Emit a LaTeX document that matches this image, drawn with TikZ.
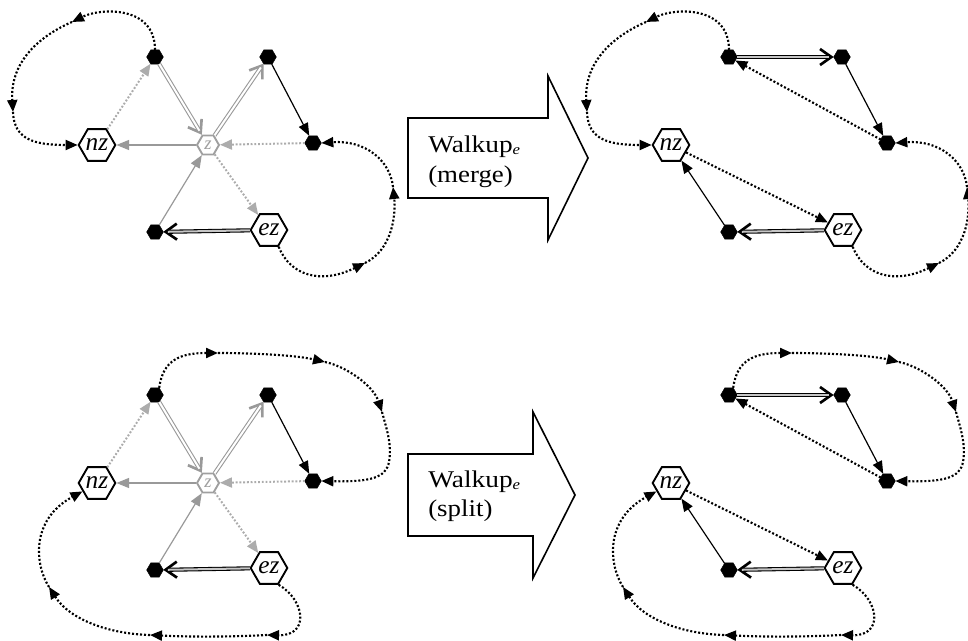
\documentclass[tikz,border=0pt]{standalone}
\usepackage{fontspec}
\usepackage{graphicx}
\setmainfont{Liberation Serif}
\usetikzlibrary{arrows.meta,shapes.geometric}
\tikzset{
  bh/.style={regular polygon, regular polygon sides=6, fill=black, draw=black, line width=0.3pt, minimum size=12.5pt, inner sep=0pt, outer sep=0pt},
  hexw/.style={regular polygon, regular polygon sides=6, draw=black, fill=white, line width=1.4pt, minimum size=27.5pt, inner sep=0pt},
  hexz/.style={regular polygon, regular polygon sides=6, draw=gray!75, fill=white, line width=1.4pt, minimum size=16.5pt, inner sep=0pt},
  lbl/.style={font=\fontsize{19}{19}\selectfont\itshape, inner sep=0pt},
  lblz/.style={font=\fontsize{14}{14}\selectfont\itshape, text=gray!75, inner sep=0pt},
  wtext/.style={font=\fontsize{18}{18}\selectfont, inner sep=0pt, anchor=base west},
  blk/.style={line width=1.2pt, line join=miter},
  thinK/.style={draw=black, line width=0.9pt, -{Triangle[length=9.5pt,width=7.5pt]}},
  thinG/.style={draw=gray!80, line width=0.9pt, -{Triangle[length=9.5pt,width=7.5pt]}},
  dotG/.style={draw=gray!65, line width=1.5pt, dash pattern=on 1.4pt off 1.4pt, -{Triangle[length=9pt,width=7.5pt]}},
  dotK/.style={draw=black, line width=1.6pt, dash pattern=on 1.5pt off 1.5pt, -{Triangle[length=9pt,width=7.5pt]}},
  chevG/.style={draw=gray!80, line width=2pt, -{Straight Barb[length=8.5pt,width=12pt]}},
  chevK/.style={draw=black, line width=2pt, -{Straight Barb[length=8.5pt,width=12pt]}},
  dblG/.style={draw=gray!80, double=white, double distance=1.5pt, line width=0.8pt, shorten >=3.5pt},
  dblK/.style={draw=black, double=gray!45, double distance=1.5pt, line width=0.8pt, shorten >=3.5pt},
}
\newcommand\mknodes[1]{%
  \node[bh] (#1A) at (155,57) {};
  \node[bh] (#1B) at (268,57) {};
  \node[bh] (#1C) at (313,143) {};
  \node[bh] (#1D) at (155,232) {};
  \node[hexw,label={[lbl,name=#1nzt]center:nz}] (#1nz) at (97,145) {};
  \node[hexw,label={[lbl,name=#1ezt]center:ez}] (#1ez) at (269,230) {};
}
\newcommand\leftedges[1]{%
  \node[hexz,label={[lblz,name=#1zt]center:z}] (#1z) at (208,145) {};
  \draw[chevG] (#1A) -- (#1z);
  \draw[dblG] (#1A) -- (#1z);
  \draw[chevG] (#1z) -- (#1B);
  \draw[dblG] (#1z) -- (#1B);
  \draw[thinK] (#1B) -- (#1C);
  \draw[dotG] (#1C) -- (#1z);
  \draw[thinG] (#1z) -- (#1nz);
  \draw[dotG] (#1nz) -- (#1A);
  \draw[thinG] (#1D) -- (#1z);
  \draw[dotG] (#1z) -- (#1ez);
  \draw[chevK] (#1ez) -- (#1D);
  \draw[dblK] (#1ez) -- (#1D);
}
\newcommand\rightedges[1]{%
  \draw[chevK] (#1A) -- (#1B);
  \draw[dblK] (#1A) -- (#1B);
  \draw[thinK] (#1B) -- (#1C);
  \draw[dotK] (#1C) -- (#1A);
  \draw[dotK] (#1nz) -- (#1ez);
  \draw[chevK] (#1ez) -- (#1D);
  \draw[dblK] (#1ez) -- (#1D);
  \draw[thinK] (#1D) -- (#1nz);
}
% merge loops: A -> nz and ez -> C
\newcommand\mergeloops[1]{%
  \coordinate (#1a1) at (72,22);
  \coordinate (#1a2) at (13,112);
  \draw[dotK] (#1A.north) .. controls (155,5) and (100,8) .. (#1a1);
  \draw[dotK] (#1a1) .. controls (35,38) and (10,65) .. (#1a2);
  \draw[dotK] (#1a2) .. controls (14,140) and (35,145) .. (#1nz.west);
  \coordinate (#1b1) at (365,263);
  \coordinate (#1b2) at (393,187);
  \draw[dotK] (#1ez.-60) .. controls (290,275) and (320,285) .. (#1b1);
  \draw[dotK] (#1b1) .. controls (392,250) and (396,215) .. (#1b2);
  \draw[dotK] (#1b2) .. controls (390,160) and (365,140) .. (#1C.east);
}
% split loops: A -> C and ez -> nz
\newcommand\splitloops[1]{%
  \coordinate (#1c1) at (218,15);
  \coordinate (#1c2) at (325,24);
  \coordinate (#1c3) at (382,74);
  \draw[dotK] (#1A.60) .. controls (163,22) and (180,15) .. (#1c1);
  \draw[dotK] (#1c1) .. controls (250,15) and (295,17) .. (#1c2);
  \draw[dotK] (#1c2) .. controls (345,28) and (373,47) .. (#1c3);
  \draw[dotK] (#1c3) .. controls (387,92) and (392,107) .. (389,124) .. controls (386,140) and (370,144) .. (#1C.east);
  \coordinate (#1d1) at (267,297);
  \coordinate (#1d2) at (150,297);
  \coordinate (#1d3) at (49,249);
  \draw[dotK] (#1ez.-60) .. controls (305,262) and (310,298) .. (#1d1);
  \draw[dotK] (#1d1) .. controls (230,299) and (190,299) .. (#1d2);
  \draw[dotK] (#1d2) .. controls (110,296) and (70,282) .. (#1d3);
  \draw[dotK] (#1d3) .. controls (35,227) and (30,182) .. (#1nz.-150);
}
\begin{document}
\begin{tikzpicture}[x=0.75pt,y=-0.75pt]
\useasboundingbox (0,0) rectangle (968,641);
\clip (0,0) rectangle (968,641);
% top left
\begin{scope}[shift={(0,0)}]
  \mknodes{tl}
  \leftedges{tl}
  \mergeloops{tl}
\end{scope}
% top right
\begin{scope}[shift={(574,0)}]
  \mknodes{tr}
  \rightedges{tr}
  \mergeloops{tr}
\end{scope}
% bottom left
\begin{scope}[shift={(0,338)}]
  \mknodes{bl}
  \leftedges{bl}
  \splitloops{bl}
\end{scope}
% bottom right
\begin{scope}[shift={(574,338)}]
  \mknodes{br}
  \rightedges{br}
  \splitloops{br}
\end{scope}
% block arrows
\draw[blk] (408,118) -- (548,118) -- (548,76) -- (588,158) -- (548,240) -- (548,198) -- (408,198) -- cycle;
\node[wtext] (w1) at (428,153) {\scalebox{1.14}[1]{Walkup\raisebox{-1.5pt}{\fontsize{11}{11}\selectfont\itshape e}}};
\node[wtext] (w2) at (428,183) {\scalebox{1.12}[1]{(merge)}};
\draw[blk] (408,454) -- (533,454) -- (533,412) -- (575,495) -- (533,578) -- (533,536) -- (408,536) -- cycle;
\node[wtext] (w3) at (428,488) {\scalebox{1.14}[1]{Walkup\raisebox{-1.5pt}{\fontsize{11}{11}\selectfont\itshape e}}};
\node[wtext] (w4) at (428,517) {\scalebox{1.12}[1]{(split)}};
\end{tikzpicture}
\end{document}
